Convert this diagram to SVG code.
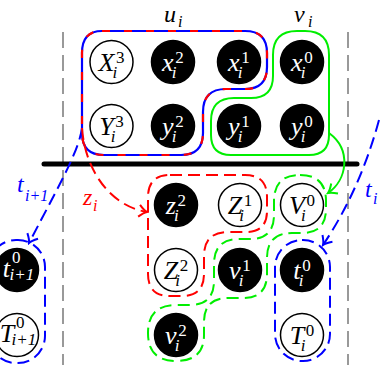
<svg xmlns="http://www.w3.org/2000/svg" width="381" height="365" viewBox="0 0 381 365">
<style>
.open{fill:#fff;stroke:#000;stroke-width:1.5}
.blk{fill:#000;stroke:#000;stroke-width:1.5}
.lt{font-family:"Liberation Serif",serif;font-style:italic;font-size:26px}
.sp{font-style:normal;font-size:17px}
.sb{font-style:italic;font-size:17px}
.w{fill:#fff}
.k{fill:#000}
.grid{stroke:#999;stroke-width:2;stroke-dasharray:16 7;fill:none}
.dash{fill:none;stroke-width:2;stroke-dasharray:12 6}
.red{stroke:#ff0000}
.blue{stroke:#0000ff}
.green{stroke:#00ee00}
.lbl{font-family:"Liberation Serif",serif;font-style:italic;font-size:24px}
.lsub{font-size:16px}
</style>
<defs>
<marker id="ab" markerUnits="userSpaceOnUse" viewBox="-10 -8 12 16" markerWidth="12" markerHeight="16" refX="0" refY="0" orient="auto"><path d="M -8 -6 Q -3 -1 0 0 Q -3 1 -8 6" fill="none" stroke="#0000ff" stroke-width="2"/></marker>
<marker id="ar" markerUnits="userSpaceOnUse" viewBox="-10 -8 12 16" markerWidth="12" markerHeight="16" refX="0" refY="0" orient="auto"><path d="M -8 -6 Q -3 -1 0 0 Q -3 1 -8 6" fill="none" stroke="#ff0000" stroke-width="2"/></marker>
<marker id="ag" markerUnits="userSpaceOnUse" viewBox="-10 -8 12 16" markerWidth="12" markerHeight="16" refX="0" refY="0" orient="auto"><path d="M -8 -6 Q -3 -1 0 0 Q -3 1 -8 6" fill="none" stroke="#00ee00" stroke-width="2"/></marker>
</defs>
<rect width="381" height="365" fill="#fff"/>
<g id="frame">
<line class="grid" x1="63" y1="32" x2="63" y2="365"/>
<line class="grid" x1="348" y1="32" x2="348" y2="365"/>
<line x1="44" y1="164" x2="357" y2="164" stroke="#000" stroke-width="5" stroke-linecap="round"/>
<text class="lbl" x="164" y="22">u<tspan class="lsub" x="178" y="27">i</tspan></text>
<text class="lbl" x="294" y="22">v<tspan class="lsub" x="308" y="27">i</tspan></text>
</g>
<g id="regions">
<path d="M 102 31 L 245 31 Q 267 31 267 53 L 267 67 Q 267 89 245 89 L 226 89 Q 203 89 203 112 L 203 133 Q 203 155 181 155 L 104 155 Q 82 155 82 133 L 82 53 Q 82 31 102 31 Z" fill="none" stroke="#0000ff" stroke-width="2.2"/>
<path d="M 102 31 L 245 31 Q 267 31 267 53 L 267 67 Q 267 89 245 89 L 226 89 Q 203 89 203 112 L 203 133 Q 203 155 181 155 L 104 155 Q 82 155 82 133 L 82 53 Q 82 31 102 31 Z" fill="none" stroke="#ff0000" stroke-width="2.2" stroke-dasharray="8 14"/>
<path d="M 297 31 L 305 31 Q 329 31 329 55 L 329 135 Q 329 155 309 155 L 231 155 Q 211 155 211 135 L 211 121 Q 211 98 234 98 L 251 98 Q 273 98 273 76 L 273 55 Q 273 31 297 31 Z" fill="none" stroke="#00ee00" stroke-width="2"/>
<path class="dash red" d="M 170 175 L 245 175 Q 267 175 267 197 L 267 211 Q 267 232 246 232 L 228 232 Q 204 232 204 256 L 204 274 Q 204 296 182 296 L 170 296 Q 148 296 148 274 L 148 197 Q 148 175 170 175 Z"/>
<path class="dash green" d="M 300 175 Q 326 175 326 201 L 326 209 Q 326 233 302 233 L 292 233 Q 267 233 267 258 L 267 274 Q 267 298 243 298 L 228 298 Q 204 298 204 322 L 204 335 Q 204 361 176 361 Q 148 361 148 333 Q 148 305 176 305 L 190 305 Q 214 305 214 281 L 214 264 Q 214 239 239 239 L 250 239 Q 274 239 274 215 L 274 201 Q 274 175 300 175 Z"/>
<rect class="dash blue" x="275" y="240" width="55" height="121" rx="27" ry="27"/>
<rect class="dash blue" x="-11" y="240" width="56" height="123" rx="27" ry="27"/>
</g>
<g id="connectors">
<path class="dash blue" d="M 82 128 C 79 150 62 180 29 243" marker-end="url(#ab)"/>
<path class="dash red" d="M 82 128 C 85 170 110 206 147 212" marker-end="url(#ar)"/>
<path d="M 329 133 C 352 150 347 180 328 193" fill="none" stroke="#00ee00" stroke-width="2" marker-end="url(#ag)"/>
<path class="dash blue" d="M 379 120 Q 360 190 323 245" marker-end="url(#ab)"/>
<text class="lbl" x="17" y="192" fill="#0000ff">t<tspan class="lsub" x="25" y="201">i+1</tspan></text>
<text class="lbl" x="83" y="205" fill="#ff0000">z<tspan class="lsub" x="93" y="211">i</tspan></text>
<text class="lbl" x="365" y="197" fill="#0000ff">t<tspan class="lsub" x="373" y="204">i</tspan></text>
</g>
<g id="X3"><circle class="open" cx="111.5" cy="62" r="21.5"/><text class="lt k" x="98.4" y="71">X<tspan class="sp" x="116" y="63">3</tspan><tspan class="sb" x="112.5" y="78">i</tspan></text></g>
<g id="x2"><circle class="blk" cx="173" cy="62" r="21.5"/><text class="lt w" x="162" y="71">x<tspan class="sp" x="175.3" y="63">2</tspan><tspan class="sb" x="171.8" y="78">i</tspan></text></g>
<g id="x1"><circle class="blk" cx="239" cy="62" r="21.5"/><text class="lt w" x="228" y="71">x<tspan class="sp" x="241.3" y="63">1</tspan><tspan class="sb" x="237.8" y="78">i</tspan></text></g>
<g id="x0"><circle class="blk" cx="302" cy="62" r="21.5"/><text class="lt w" x="291" y="71">x<tspan class="sp" x="304.3" y="63">0</tspan><tspan class="sb" x="300.8" y="78">i</tspan></text></g>
<g id="Y3"><circle class="open" cx="111.5" cy="126" r="21.5"/><text class="lt k" x="99.2" y="135">Y<tspan class="sp" x="115.3" y="127">3</tspan><tspan class="sb" x="110.8" y="142">i</tspan></text></g>
<g id="y2"><circle class="blk" cx="173" cy="126" r="21.5"/><text class="lt w" x="162" y="135">y<tspan class="sp" x="175.3" y="127">2</tspan><tspan class="sb" x="171.8" y="142">i</tspan></text></g>
<g id="y1"><circle class="blk" cx="239" cy="126" r="21.5"/><text class="lt w" x="228" y="135">y<tspan class="sp" x="241.3" y="127">1</tspan><tspan class="sb" x="237.8" y="142">i</tspan></text></g>
<g id="y0"><circle class="blk" cx="302" cy="126" r="21.5"/><text class="lt w" x="291" y="135">y<tspan class="sp" x="304.3" y="127">0</tspan><tspan class="sb" x="300.8" y="142">i</tspan></text></g>
<g id="z2"><circle class="blk" cx="176" cy="205" r="21.5"/><text class="lt w" x="165.8" y="214">z<tspan class="sp" x="177.6" y="206">2</tspan><tspan class="sb" x="174.1" y="221">i</tspan></text></g>
<g id="Z1"><circle class="open" cx="240" cy="205" r="21.5"/><text class="lt k" x="227.7" y="214">Z<tspan class="sp" x="243.8" y="206">1</tspan><tspan class="sb" x="239.3" y="221">i</tspan></text></g>
<g id="V0"><circle class="open" cx="302" cy="205" r="21.5"/><text class="lt k" x="289" y="214">V<tspan class="sp" x="306.5" y="206">0</tspan><tspan class="sb" x="301" y="221">i</tspan></text></g>
<g id="Z2"><circle class="open" cx="176" cy="270" r="21.5"/><text class="lt k" x="163.7" y="279">Z<tspan class="sp" x="179.8" y="271">2</tspan><tspan class="sb" x="175.3" y="286">i</tspan></text></g>
<g id="v1"><circle class="blk" cx="240" cy="270" r="21.5"/><text class="lt w" x="229" y="279">v<tspan class="sp" x="242.3" y="271">1</tspan><tspan class="sb" x="238.8" y="286">i</tspan></text></g>
<g id="t0"><circle class="blk" cx="302" cy="270" r="21.5"/><text class="lt w" x="293.3" y="279">t<tspan class="sp" x="302.3" y="271">0</tspan><tspan class="sb" x="298.8" y="286">i</tspan></text></g>
<g id="v2"><circle class="blk" cx="176" cy="335" r="21.5"/><text class="lt w" x="165" y="344">v<tspan class="sp" x="178.3" y="336">2</tspan><tspan class="sb" x="174.8" y="351">i</tspan></text></g>
<g id="T0"><circle class="open" cx="302" cy="335" r="21.5"/><text class="lt k" x="289.7" y="344">T<tspan class="sp" x="305.8" y="336">0</tspan><tspan class="sb" x="300.8" y="351">i</tspan></text></g>
<g id="t1"><circle class="blk" cx="17" cy="270" r="21.5"/><text class="lt w" x="2.8" y="277">t<tspan class="sp" x="12" y="263">0</tspan><tspan class="sb" x="9.5" y="280">i+1</tspan></text></g>
<g id="T1"><circle class="open" cx="17" cy="335" r="21.5"/><text class="lt k" x="-0.3" y="342">T<tspan class="sp" x="16" y="328">0</tspan><tspan class="sb" x="11.5" y="345">i+1</tspan></text></g>
</svg>
